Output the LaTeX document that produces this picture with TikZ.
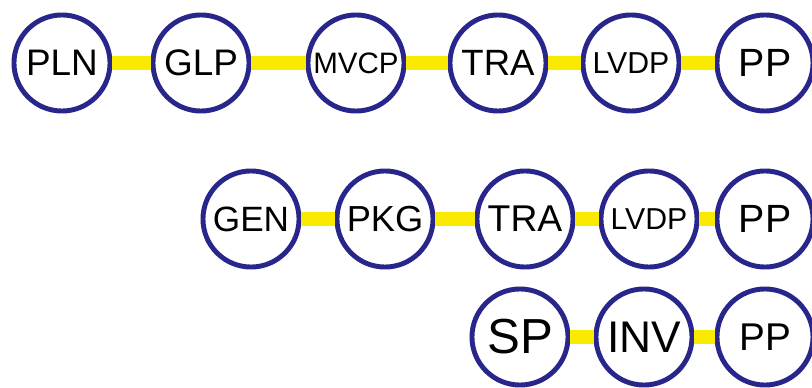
\documentclass[tikz,border=0pt]{standalone}
\usepackage{fontspec}
\setmainfont{Liberation Sans}
\usepackage{tikz}
\definecolor{ringblue}{RGB}{40,38,138}
\definecolor{linkyellow}{RGB}{250,234,0}
\tikzset{stage/.style={circle,draw=ringblue,line width=1.4pt,fill=white,
                       minimum size=0.96cm,inner sep=0pt}}
\def\rowone{63}
\def\rowtwo{219}
\def\rowthree{337}

\begin{document}
\begin{tikzpicture}[x=0.01cm,y=-0.01cm]
    \tikzstyle{link}=[draw=linkyellow,line width=3.8pt]
    \useasboundingbox (0,0) rectangle (812,388);

    % First row of stages
    \foreach \name / \x / \fs in {PLN/62/10.5,GLP/201/10.5,MVCP/356/8.4,TRA/498/10.4,LVDP/631/8.6,PP/765/11.2}
        \node[stage] (P-\name) at (\x,\rowone) {\fontsize{\fs}{\fs}\selectfont \name};

    % Second row of stages
    \foreach \name / \x / \fs in {GEN/251/10,PKG/385/10.3,TRA/525/10.6,LVDP/649/8.6,PP/765/11.2}
        \node[stage] (G-\name) at (\x,\rowtwo) {\fontsize{\fs}{\fs}\selectfont \name};

    % Third row of stages
    \foreach \name / \x / \fs in {SP/520/14,INV/644/12.6,PP/765/11}
        \node[stage] (S-\name) at (\x,\rowthree) {\fontsize{\fs}{\fs}\selectfont \name};

    % Join neighbouring stages in each row
    \foreach \source / \dest in {PLN/GLP,GLP/MVCP,MVCP/TRA,TRA/LVDP,LVDP/PP}
        \path[link] (P-\source) -- (P-\dest);
    \foreach \source / \dest in {GEN/PKG,PKG/TRA,TRA/LVDP,LVDP/PP}
        \path[link] (G-\source) -- (G-\dest);
    \foreach \source / \dest in {SP/INV,INV/PP}
        \path[link] (S-\source) -- (S-\dest);
\end{tikzpicture}
\end{document}
